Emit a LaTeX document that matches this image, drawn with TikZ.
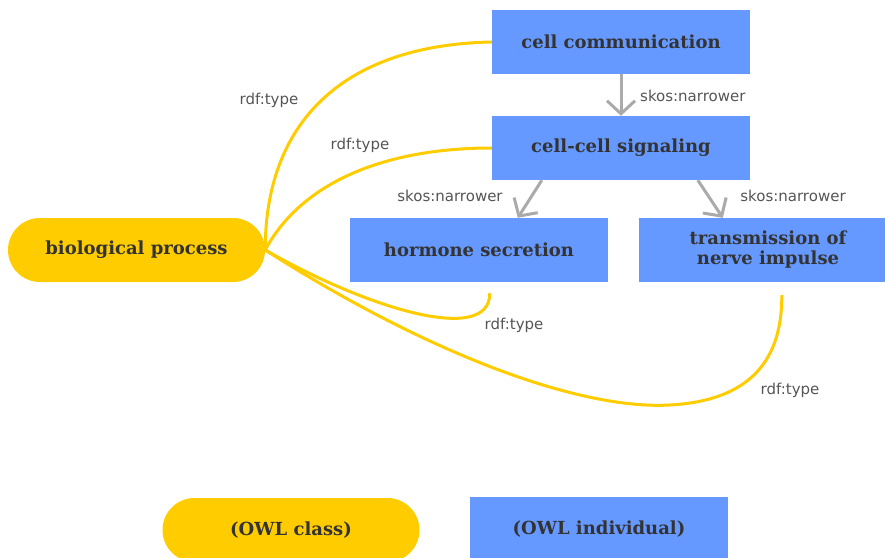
\documentclass[tikz,border=0pt]{standalone}
\usepackage{fontspec}
\setmainfont{DejaVu Serif}
\newfontfamily\lblfont{DejaVu Sans}
\usetikzlibrary{arrows.meta}
\definecolor{bpblue}{HTML}{6699FF}
\definecolor{bpyellow}{HTML}{FFCC00}
\definecolor{txtgray}{HTML}{333333}
\definecolor{arrgray}{HTML}{AAAAAA}
\definecolor{lblgray}{HTML}{555555}
\begin{document}
\begin{tikzpicture}[x=1pt,y=-1pt,
  indiv/.style={fill=bpblue, minimum width=258pt, minimum height=64pt, inner sep=0pt,
    font=\bfseries\fontsize{18}{20}\selectfont, text=txtgray, align=center},
  cls/.style={fill=bpyellow, rounded corners=32pt, minimum width=257pt, minimum height=64pt,
    inner sep=0pt, font=\bfseries\fontsize{18}{20}\selectfont, text=txtgray, align=center},
  narrow/.style={draw=arrgray, line width=3pt, -{Straight Barb[length=13pt,width=28pt]}},
  typeof/.style={draw=bpyellow, line width=3pt},
  lbl/.style={font=\lblfont\fontsize{15}{17}\selectfont, text=lblgray, inner sep=0pt}
]
\useasboundingbox (0,0) rectangle (885,557);

\node[cls] (bp) at (136.5,250) {biological process};
\node[indiv] (cc) at (621,42) {cell communication};
\node[indiv] (ccs) at (621,148) {cell-cell signaling};
\node[indiv] (hs) at (479,250) {hormone secretion};
\node[indiv] (tni) at (768,250) {transmission of\\nerve impulse};

\node[cls] (lc) at (291,530) {(OWL class)};
\node[indiv] (li) at (599,529) {(OWL individual)};

% skos:narrower arrows
\draw[narrow] (cc.south) -- (ccs.north);
\draw[narrow] ([xshift=50pt]ccs.south west) -- ([xshift=168pt]hs.north west);
\draw[narrow] ([xshift=206pt]ccs.south west) -- ([xshift=84pt]tni.north west);

\node[lbl, anchor=west] (l1) at (640,96) {skos:narrower};
\node[lbl] (l2) at (450,196) {skos:narrower};
\node[lbl] (l3) at (793,196) {skos:narrower};

% rdf:type curves
\draw[typeof] (bp.east) .. controls (265,125) and (340,45) .. (cc.west);
\draw[typeof] (bp.east) .. controls (300,185) and (380,148) .. (ccs.west);
\draw[typeof] (bp.east) .. controls (370,310) and (490,345) .. ([xshift=140pt,yshift=-11pt]hs.south west);
\draw[typeof] (bp.east) .. controls (430,355) and (580,410) .. (670,405)
  .. controls (760,400) and (782,350) .. ([xshift=143pt,yshift=-13pt]tni.south west);

\node[lbl] (t1) at (269,100) {rdf:type};
\node[lbl] (t2) at (360,145) {rdf:type};
\node[lbl] (t3) at (514,325) {rdf:type};
\node[lbl] (t4) at (790,390) {rdf:type};
\end{tikzpicture}
\end{document}
